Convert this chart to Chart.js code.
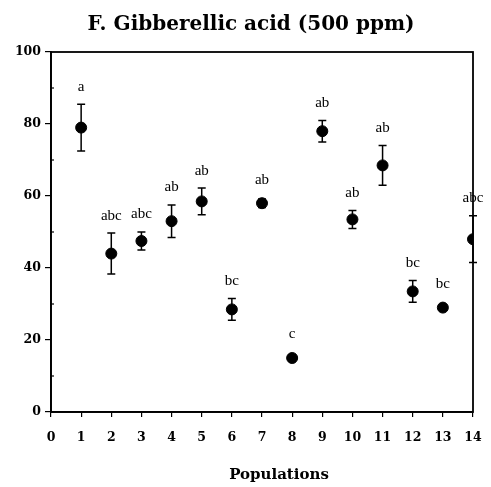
<!DOCTYPE html>
<html>
<head>
<meta charset="utf-8">
<script src="https://cdn.jsdelivr.net/npm/chart.js@4.4.1/dist/chart.umd.min.js"></script>
<style>
  html, body { margin: 0; padding: 0; background: #fff; }
  #wrap { width: 491px; height: 487px; }
</style>
</head>
<body>
<div id="wrap"><canvas id="chart" width="491" height="487"></canvas></div>
<script>
// datos
const populations = [1, 2, 3, 4, 5, 6, 7, 8, 9, 10, 11, 12, 13, 14];
const means = [79, 44, 47.5, 53, 58.5, 28.5, 58, 15, 78, 53.5, 68.5, 33.5, 29, 48];
const errors = [6.5, 5.7, 2.5, 4.5, 3.7, 3, 1.2, 0.5, 3, 2.5, 5.5, 3, 0.5, 6.5];
const letters = ['a', 'abc', 'abc', 'ab', 'ab', 'bc', 'ab', 'c', 'ab', 'ab', 'ab', 'bc', 'bc', 'abc'];
const yTicks = [0, 20, 40, 60, 80, 100];
const yMinorTicks = [10, 30, 50, 70, 90];

const titleText = 'F. Gibberellic acid (500 ppm)';
const xTitleText = 'Populations';

const serif = '"Liberation Serif", "DejaVu Serif", serif';
const boldSerif = '"DejaVu Serif", serif';

// barras de error, letras, marco y titulos
const extrasPlugin = {
  id: 'extras',
  afterDatasetsDraw(chart) {
    const ctx = chart.ctx;
    const xs = chart.scales.x;
    const ys = chart.scales.y;
    const area = chart.chartArea;
    ctx.save();
    ctx.strokeStyle = '#000';
    ctx.fillStyle = '#000';

    // marco
    ctx.lineWidth = 1.8;
    ctx.strokeRect(area.left, area.top, area.right - area.left, area.bottom - area.top);

    // ticks menores hacia adentro
    ctx.lineWidth = 1.2;
    yMinorTicks.forEach(v => {
      const py = ys.getPixelForValue(v);
      ctx.beginPath();
      ctx.moveTo(area.left, py);
      ctx.lineTo(area.left + 3, py);
      ctx.stroke();
    });

    ctx.lineWidth = 1.5;
    populations.forEach((p, i) => {
      const px = xs.getPixelForValue(p);
      const top = ys.getPixelForValue(means[i] + errors[i]);
      const bot = ys.getPixelForValue(means[i] - errors[i]);
      ctx.beginPath();
      ctx.moveTo(px, top);
      ctx.lineTo(px, bot);
      ctx.moveTo(px - 4, top);
      ctx.lineTo(px + 4, top);
      ctx.moveTo(px - 4, bot);
      ctx.lineTo(px + 4, bot);
      ctx.stroke();

      const pointTop = ys.getPixelForValue(means[i]) - 6;
      const labelY = Math.min(top, pointTop) - 10;
      ctx.font = '15px ' + serif;
      ctx.textAlign = 'center';
      ctx.textBaseline = 'bottom';
      ctx.fillText(letters[i], px, labelY);
    });

    // titulo y titulo del eje x
    ctx.textAlign = 'center';
    ctx.textBaseline = 'alphabetic';
    ctx.font = 'bold 20px ' + boldSerif;
    ctx.fillText(titleText, 251, 30);
    ctx.font = 'bold 15px ' + boldSerif;
    ctx.fillText(xTitleText, 279, 479);
    ctx.restore();
  }
};

new Chart(document.getElementById('chart'), {
  type: 'scatter',
  data: {
    datasets: [
      {
        data: populations.map((p, i) => ({ x: p, y: means[i] })),
        backgroundColor: '#000',
        borderColor: '#000',
        pointRadius: 5.5,
        pointHoverRadius: 5.5,
      },
    ],
  },
  options: {
    responsive: false,
    animation: false,
    layout: {
      padding: { left: 0, right: 18, top: 52, bottom: 6 },
    },
    plugins: {
      legend: { display: false },
      tooltip: { enabled: false },
      title: { display: false },
    },
    scales: {
      x: {
        type: 'linear',
        min: 0,
        max: 14,
        afterFit(scale) {
          scale.height = 69;
          scale.paddingLeft = 0;
          scale.paddingRight = 0;
        },
        ticks: {
          stepSize: 1,
          color: '#000',
          padding: 13,
          font: { family: boldSerif, size: 12.5, weight: 'bold' },
        },
        grid: { display: true, drawOnChartArea: false, color: '#000', tickLength: 5, lineWidth: 1.2 },
        border: { display: true, color: '#000', width: 1.8 },
      },
      y: {
        type: 'linear',
        min: 0,
        max: 100,
        afterFit(scale) {
          scale.width = 51;
          scale.paddingTop = 0;
          scale.paddingBottom = 0;
        },
        afterBuildTicks(scale) { scale.ticks = yTicks.map(v => ({ value: v })); },
        ticks: {
          color: '#000',
          padding: 4,
          font: { family: boldSerif, size: 12.5, weight: 'bold' },
        },
        grid: { display: true, drawOnChartArea: false, color: '#000', tickLength: 6, lineWidth: 1.2 },
        border: { display: true, color: '#000', width: 1.8 },
      },
    },
  },
  plugins: [extrasPlugin],
});
</script>
</body>
</html>
